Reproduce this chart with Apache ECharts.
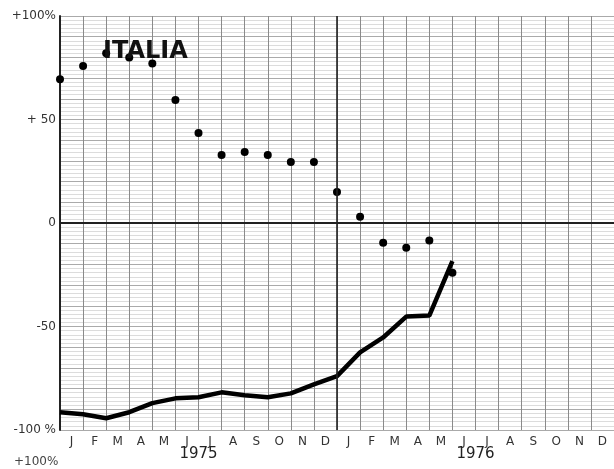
<!DOCTYPE html>
<html>
<head>
<meta charset="utf-8">
<script src="https://cdn.jsdelivr.net/npm/echarts@6/dist/echarts.min.js"></script>
<style>html,body{margin:0;padding:0;background:#fff}#c{width:614px;height:469px}</style>
</head>
<body>
<div id="c"></div>
<script>
var months = ['J','F','M','A','M','J','J','A','S','O','N','D','J','F','M','A','M','J','J','A','S','O','N','D'];
var years = ['1975','1976'];
var yTickLabels = {'-100':'-100 %','-50':'-50','0':'0','50':'+ 50','100':'+100%'};
var title = 'ITALIA';
// dots (monthly values, from Jan 1975)
var dotValues = [69.5, 75.8, 82, 80, 77, 59.4, 43.5, 32.9, 34.3, 32.9, 29.5, 29.5, 15, 3, -9.5, -12, -8.5, -24];
// thick line
var lineValues = [-91.4, -92.4, -94.3, -91.4, -87, -84.7, -84.2, -81.8, -83.2, -84.2, -82.3, -78, -74, -62.5, -55.3, -45.2, -44.7, -18.4];

var dotData = dotValues.map(function(v,i){return [i, v];});
var lineData = lineValues.map(function(v,i){return [i, v];});

var chart = echarts.init(document.getElementById('c'), null, {renderer:'canvas'});
var font = '"DejaVu Sans", sans-serif';
chart.setOption({
  animation: false,
  backgroundColor: '#fff',
  title: {
    text: title, left: 98, top: 35,
    textStyle: {fontFamily: font, fontWeight: 'bold', fontSize: 24, color: '#111'}
  },
  grid: {left: 60, right: 0, top: 16, bottom: 39},
  xAxis: [
    {type: 'value', min: 0, max: 24, interval: 1, position: 'top',
     axisLine: {show: true, lineStyle: {color: '#222', width: 2}},
     axisTick: {show: false}, axisLabel: {show: false},
     splitLine: {show: true, lineStyle: {color: '#8a8a8a', width: 1}}},
    {type: 'category', data: months, boundaryGap: true, position: 'bottom',
     axisLine: {show: true, lineStyle: {color: '#222', width: 2}},
     axisTick: {show: false},
     axisLabel: {color: '#333', fontSize: 12, fontFamily: font, margin: 6, interval: 0},
     splitLine: {show: false}},
    {type: 'category', data: years, boundaryGap: true, position: 'bottom', offset: 13,
     axisLine: {show: false}, axisTick: {show: false},
     axisLabel: {color: '#222', fontSize: 15, fontFamily: font, margin: 4, interval: 0},
     splitLine: {show: false}}
  ],
  yAxis: [
    {type: 'value', min: -100, max: 100, interval: 50,
     axisLine: {show: true, lineStyle: {color: '#222', width: 2}},
     axisTick: {show: false},
     axisLabel: {color: '#333', fontSize: 12, fontFamily: font, margin: 4,
       formatter: function(v){ return yTickLabels[String(v)]; }},
     splitLine: {show: false}},
    {type: 'value', min: -100, max: 100, interval: 2,
     axisLine: {show: false}, axisTick: {show: false}, axisLabel: {show: false},
     splitLine: {show: true, lineStyle: {color: '#dcdcdc', width: 1}}},
    {type: 'value', min: -100, max: 100, interval: 10,
     axisLine: {show: false}, axisTick: {show: false}, axisLabel: {show: false},
     splitLine: {show: true, lineStyle: {color: '#aaaaaa', width: 1}}}
  ],
  graphic: [
    {type: 'text', left: 14, top: 456, style: {text: '+100%', fill: '#444', font: '12px ' + font}}
  ],
  series: [
    {type: 'line', xAxisIndex: 0, yAxisIndex: 0, data: lineData, showSymbol: false, symbol: 'none',
     lineStyle: {color: '#000', width: 4.5}, z: 3,
     markLine: {silent: true, symbol: 'none', label: {show: false},
       lineStyle: {color: '#222', width: 1.6, type: 'solid'},
       data: [{yAxis: 0}, {xAxis: 12}]}},
    {type: 'scatter', xAxisIndex: 0, yAxisIndex: 0, data: dotData, symbol: 'circle', symbolSize: 8,
     itemStyle: {color: '#000', opacity: 1}, z: 4}
  ]
});
</script>
</body>
</html>
